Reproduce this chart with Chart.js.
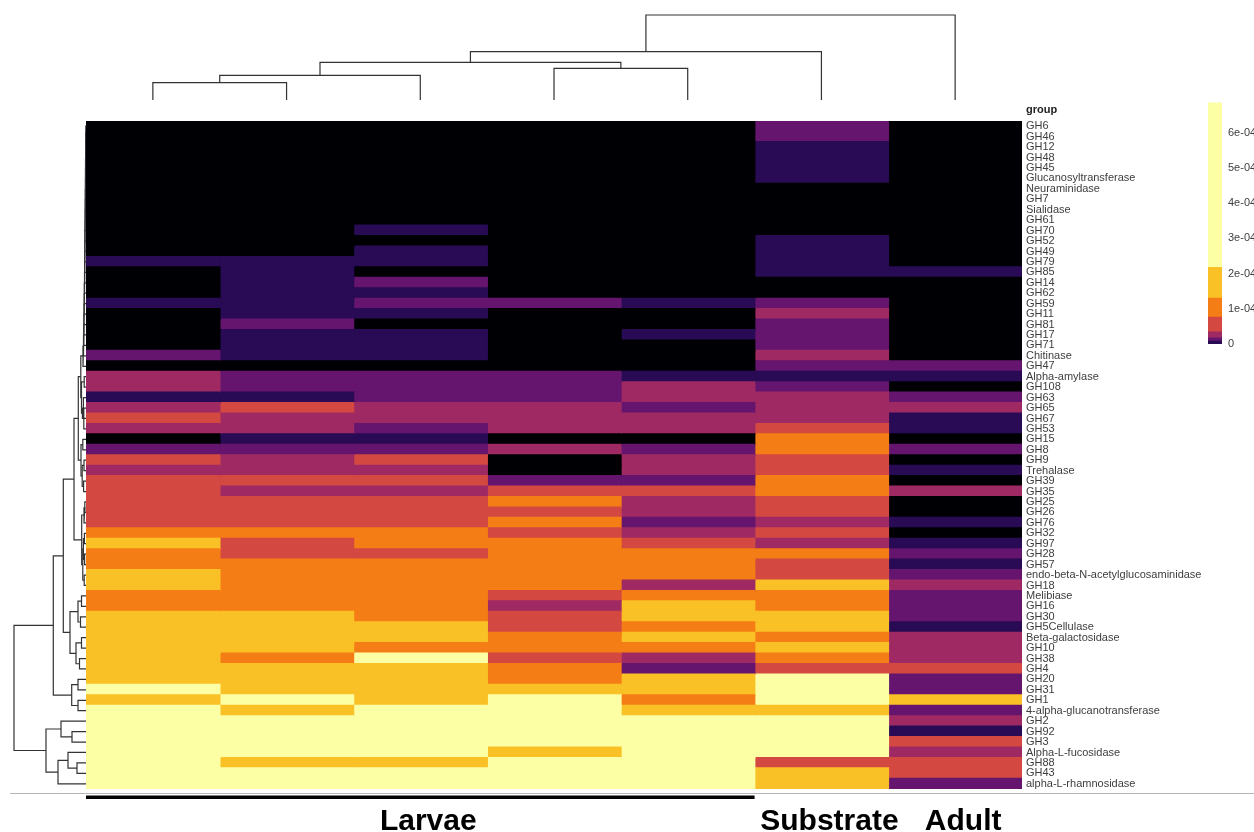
<!DOCTYPE html>
<html>
<head>
<meta charset="utf-8">
<script src="https://cdn.jsdelivr.net/npm/chart.js@4.4.1/dist/chart.umd.min.js"></script>
<style>
  html, body { margin: 0; padding: 0; background: #fff; }
  #page { position: relative; width: 1254px; height: 832px; overflow: hidden; }
  #page canvas { position: absolute; }
</style>
</head>
<body>
<div id="page">
  <canvas id="colTree" width="1254" height="112" style="left:0;top:0"></canvas>
  <canvas id="rowTree" width="100" height="690" style="left:0;top:110px"></canvas>
  <canvas id="heat" width="1254" height="832" style="left:0;top:0"></canvas>
  <canvas id="key" width="64" height="270" style="left:1190px;top:90px"></canvas>
</div>
<script>
// GH families, top to bottom (already in clustered order)
const families = [
  "GH6", "GH46", "GH12", "GH48", "GH45", "Glucanosyltransferase", "Neuraminidase", "GH7",
  "Sialidase", "GH61", "GH70", "GH52", "GH49", "GH79", "GH85", "GH14",
  "GH62", "GH59", "GH11", "GH81", "GH17", "GH71", "Chitinase", "GH47",
  "Alpha-amylase", "GH108", "GH63", "GH65", "GH67", "GH53", "GH15", "GH8",
  "GH9", "Trehalase", "GH39", "GH35", "GH25", "GH26", "GH76", "GH32",
  "GH97", "GH28", "GH57", "endo-beta-N-acetylglucosaminidase", "GH18", "Melibiase", "GH16", "GH30",
  "GH5Cellulase", "Beta-galactosidase", "GH10", "GH38", "GH4", "GH20", "GH31", "GH1",
  "4-alpha-glucanotransferase", "GH2", "GH92", "GH3", "Alpha-L-fucosidase", "GH88", "GH43", "alpha-L-rhamnosidase"
];

// relative abundance per sample, in units of 1e-04 (0 = not detected)
const larvae1 = [0,0,0,0,0,0,0,0,0,0, 0,0,0,0.04,0,0,0,0.04,0,0, 0,0,0.12,0,0.25,0.25,0.04,0.25,0.5,0.25,
  0,0.12,0.5,0.25,0.5,0.5,0.5,0.5,0.5,1.0, 1.7,1.0,1.0,1.7,1.7,1.0,1.0,1.7,1.7,1.7,
  1.7,1.7,1.7,1.7,3.5,1.7,3.5,3.5,3.5,3.5, 3.5,3.5,3.5,3.5];
const larvae2 = [0,0,0,0,0,0,0,0,0,0, 0,0,0,0.04,0.04,0.04,0.04,0.04,0.04,0.12, 0.04,0.04,0.04,0,0.12,0.12,0.04,0.5,0.25,0.25,
  0.04,0.12,0.25,0.25,0.5,0.25,0.5,0.5,0.5,1.0, 0.5,0.5,1.0,1.0,1.0,1.0,1.0,1.7,1.7,1.7,
  1.7,1.0,1.7,1.7,1.7,3.5,1.7,3.5,3.5,3.5, 3.5,1.7,3.5,3.5];
const larvae3 = [0,0,0,0,0,0,0,0,0,0, 0.04,0,0.04,0.04,0,0.12,0.04,0.12,0.04,0, 0.04,0.04,0.04,0,0.12,0.12,0.12,0.25,0.25,0.12,
  0.04,0.12,0.5,0.25,0.5,0.25,0.5,0.5,0.5,1.0, 1.0,0.5,1.0,1.0,1.0,1.0,1.0,1.0,1.7,1.7,
  1.0,3.5,1.7,1.7,1.7,1.7,3.5,3.5,3.5,3.5, 3.5,1.7,3.5,3.5];
const larvae4 = [0,0,0,0,0,0,0,0,0,0, 0,0,0,0,0,0,0,0.12,0,0, 0,0,0,0,0.12,0.12,0.12,0.25,0.25,0.25,
  0,0.25,0,0,0.12,0.5,1.0,0.5,1.0,0.5, 1.0,1.0,1.0,1.0,1.0,0.5,0.25,0.5,0.5,1.0,
  1.0,0.5,1.0,1.0,1.7,3.5,3.5,3.5,3.5,3.5, 1.7,3.5,3.5,3.5];
const larvae5 = [0,0,0,0,0,0,0,0,0,0, 0,0,0,0,0,0,0,0.04,0,0, 0.04,0,0,0,0.04,0.25,0.25,0.12,0.25,0.25,
  0,0.12,0.25,0.25,0.12,0.5,0.25,0.25,0.12,0.25, 0.5,1.0,1.0,1.0,0.25,1.0,1.7,1.7,1.0,1.7,
  1.0,0.25,0.12,1.7,1.7,1.0,1.7,3.5,3.5,3.5, 3.5,3.5,3.5,3.5];
const substrate = [0.12,0.12,0.04,0.04,0.04,0.04,0,0,0,0, 0,0.04,0.04,0.04,0.04,0,0,0.12,0.25,0.12, 0.12,0.12,0.25,0.12,0.04,0.12,0.25,0.25,0.25,0.5,
  1.0,1.0,0.5,0.5,1.0,1.0,0.5,0.5,0.25,0.5, 0.25,1.0,0.5,0.5,1.7,1.0,1.0,1.7,1.7,1.0,
  1.7,1.0,0.5,3.5,3.5,3.5,1.7,3.5,3.5,3.5, 3.5,0.5,1.7,1.7];
const adult = [0,0,0,0,0,0,0,0,0,0, 0,0,0,0,0.04,0,0,0,0,0, 0,0,0,0.12,0.04,0,0.12,0.25,0.04,0.04,
  0,0.12,0,0.04,0,0.25,0,0,0.04,0, 0.04,0.12,0.04,0.12,0.25,0.12,0.12,0.12,0.04,0.25,
  0.25,0.25,0.5,0.12,0.12,1.7,0.12,0.25,0.04,0.5, 0.25,0.5,0.5,0.12];
const columns = [larvae1, larvae2, larvae3, larvae4, larvae5, substrate, adult];

const groupNames = ["Larvae", "Substrate", "Adult"];
const groupSpans = [[0, 5], [5, 6], [6, 7]];

// colour key: class limits (1e-04) and inferno colours
const keyBreaks = [0, 0.08, 0.17, 0.34, 0.76, 1.3, 2.17, 6.85];
const keyColors = ["#280B54", "#65156E", "#9F2A63", "#D44842", "#F57D15", "#FAC127", "#FCFFA4"];
const keyTicks = [0, 1, 2, 3, 4, 5, 6];
const absentColor = "#000004";

// hclust style merges: negative = leaf (1-based), positive = earlier merge
const colMerge = [[-1, -2], [1, -3], [-4, -5], [2, 3], [4, -6], [5, -7]];
const colHeight = [17.3, 24.7, 31.7, 37.7, 48.3, 85];

const rowMerge = [
  [-1, -2], [1, -3], [2, -4], [3, -5], [4, -6], [5, -7], [6, -8], [7, -9], [8, -10], [9, -11],
  [10, -12], [11, -13], [12, -14], [13, -15], [14, -16], [15, -17], [16, -18], [17, -19], [18, -20], [19, -21],
  [20, -22], [21, -23], [-25, -26], [22, -24], [-28, -30], [-27, -29], [25, 26], [23, 27], [24, 28], [-33, -34],
  [-31, -32], [-35, -36], [30, 32], [31, 33], [29, 34], [-37, -38], [36, -39], [-40, -41], [-42, -43], [38, 39],
  [-44, -45], [40, 41], [37, 42], [35, 43], [-46, -47], [-48, -49], [45, 46], [-50, -51], [-52, -53], [48, 49],
  [47, 50], [44, 51], [-54, -55], [-56, -57], [53, 54], [52, 55], [-59, -60], [-58, 57], [-62, -63], [-61, 59],
  [60, -64], [58, 61], [56, 62]
];
const rowHeight = [
  0.2, 0.3, 0.3, 0.4, 0.5, 0.5, 0.6, 0.7, 0.8, 0.9,
  1.0, 1.1, 1.2, 1.3, 1.4, 1.5, 1.7, 1.8, 2.0, 2.1,
  2.3, 2.5, 1.8, 3.0, 2.2, 2.6, 3.6, 4.5, 5.2, 2.0,
  3.2, 2.4, 3.8, 5.0, 7.7, 1.2, 2.0, 1.6, 1.4, 2.6,
  1.8, 3.2, 4.3, 12, 4.5, 5.5, 8, 4.5, 6.5, 10,
  16, 22.7, 8, 8, 14.3, 32.7, 14, 25, 9, 18,
  28, 40, 72
];

const labelFont = "'Liberation Sans', Arial, sans-serif";
Chart.defaults.font.family = labelFont;

function cellColor(v) {
  if (v <= 0) return absentColor;
  for (let k = 0; k < keyColors.length; k++) {
    if (v <= keyBreaks[k + 1]) return keyColors[k];
  }
  return keyColors[keyColors.length - 1];
}

// one polyline (left leg, bar, right leg) per merge
function treeSegments(merge, height) {
  const nodes = [];
  const at = (id) => (id < 0 ? { p: -id - 0.5, h: 0 } : nodes[id - 1]);
  return merge.map(([a, b], i) => {
    const A = at(a), B = at(b), h = height[i];
    nodes.push({ p: (A.p + B.p) / 2, h: h });
    return [[A.p, A.h], [A.p, h], [B.p, h], [B.p, B.h]];
  });
}

function treeDatasets(segs, sideways) {
  return segs.map((s) => ({
    data: s.map(([p, h]) => (sideways ? { x: h, y: p } : { x: p, y: h })),
    showLine: true,
    borderColor: "#333",
    borderWidth: 1.2,
    pointRadius: 0,
    tension: 0,
    clip: 4,
  }));
}

const quiet = {
  legend: { display: false },
  tooltip: { enabled: false },
};

// sample dendrogram
new Chart(document.getElementById("colTree"), {
  type: "scatter",
  data: { datasets: treeDatasets(treeSegments(colMerge, colHeight), false) },
  options: {
    responsive: false,
    animation: false,
    events: [],
    layout: { padding: { left: 86, right: 232, top: 15, bottom: 12 } },
    plugins: quiet,
    scales: {
      x: { type: "linear", min: 0, max: columns.length, display: false },
      y: { type: "linear", min: 0, max: 85, display: false },
    },
  },
});

// family dendrogram
new Chart(document.getElementById("rowTree"), {
  type: "scatter",
  data: { datasets: treeDatasets(treeSegments(rowMerge, rowHeight), true) },
  options: {
    responsive: false,
    animation: false,
    events: [],
    layout: { padding: { left: 14, right: 14, top: 11, bottom: 11 } },
    plugins: quiet,
    scales: {
      x: { type: "linear", min: 0, max: 72, reverse: true, display: false },
      y: { type: "linear", min: 0, max: families.length, reverse: true, display: false },
    },
  },
});

// header, axis rule and sample group labels
const annotations = {
  id: "annotations",
  afterDraw(chart) {
    const { ctx, chartArea, scales } = chart;
    const x = scales.x;
    ctx.save();
    ctx.fillStyle = "#222";
    ctx.font = "bold 11px " + labelFont;
    ctx.textAlign = "left";
    ctx.textBaseline = "alphabetic";
    ctx.fillText("group", chartArea.right + 4, chartArea.top - 8.5);

    ctx.strokeStyle = "#b5b5b5";
    ctx.lineWidth = 1;
    ctx.beginPath();
    ctx.moveTo(10, chartArea.bottom + 4.5);
    ctx.lineTo(chart.width, chartArea.bottom + 4.5);
    ctx.stroke();

    ctx.fillStyle = "#000";
    ctx.font = "bold 30px " + labelFont;
    ctx.textAlign = "center";
    groupSpans.forEach(([a, b], g) => {
      const x0 = x.getPixelForValue(a);
      const x1 = x.getPixelForValue(b);
      if (b - a > 1) ctx.fillRect(x0, chartArea.bottom + 6.5, x1 - x0, 3.5);
      ctx.fillText(groupNames[g], (x0 + x1) / 2 + 8, chartArea.bottom + 41);
    });
    ctx.restore();
  },
};

// heatmap: one dataset per sample, one floating bar per family
new Chart(document.getElementById("heat"), {
  type: "bar",
  data: {
    labels: families,
    datasets: columns.map((vals, c) => ({
      data: vals.map(() => [c, c + 1]),
      backgroundColor: vals.map(cellColor),
      borderWidth: 0,
      inflateAmount: 0.8,
      barPercentage: 1,
      categoryPercentage: 1,
      grouped: false,
    })),
  },
  options: {
    indexAxis: "y",
    responsive: false,
    animation: false,
    events: [],
    layout: { padding: { left: 86, right: 0, top: 121, bottom: 43 } },
    plugins: quiet,
    scales: {
      x: { type: "linear", min: 0, max: columns.length, display: false },
      y: {
        type: "category",
        position: "right",
        grid: { display: false, drawTicks: false },
        border: { display: false },
        ticks: { autoSkip: false, padding: 4, color: "#3d3d3d", font: { size: 11 } },
        afterFit(scale) {
          scale.width = 232;
        },
      },
    },
  },
  plugins: [annotations],
});

// colour key
new Chart(document.getElementById("key"), {
  type: "bar",
  data: {
    labels: ["key"],
    datasets: keyColors.map((col, k) => ({
      data: [[keyBreaks[k], keyBreaks[k + 1]]],
      backgroundColor: col,
      borderWidth: 0,
      inflateAmount: 0.5,
      barPercentage: 1,
      categoryPercentage: 1,
      grouped: false,
    })),
  },
  options: {
    responsive: false,
    animation: false,
    events: [],
    layout: { padding: { left: 18, right: 0, top: 11, bottom: 16 } },
    plugins: quiet,
    scales: {
      x: { display: false },
      y: {
        position: "right",
        min: 0,
        max: keyBreaks[keyBreaks.length - 1],
        grid: { display: false, drawTicks: false },
        border: { display: false },
        afterBuildTicks(scale) {
          scale.ticks = keyTicks.map((v) => ({ value: v }));
        },
        ticks: {
          padding: 6,
          color: "#3d3d3d",
          font: { size: 11 },
          callback: (v) => (v === 0 ? "0" : v + "e-04"),
        },
        afterFit(scale) {
          scale.width = 32;
        },
      },
    },
  },
});
</script>
</body>
</html>
